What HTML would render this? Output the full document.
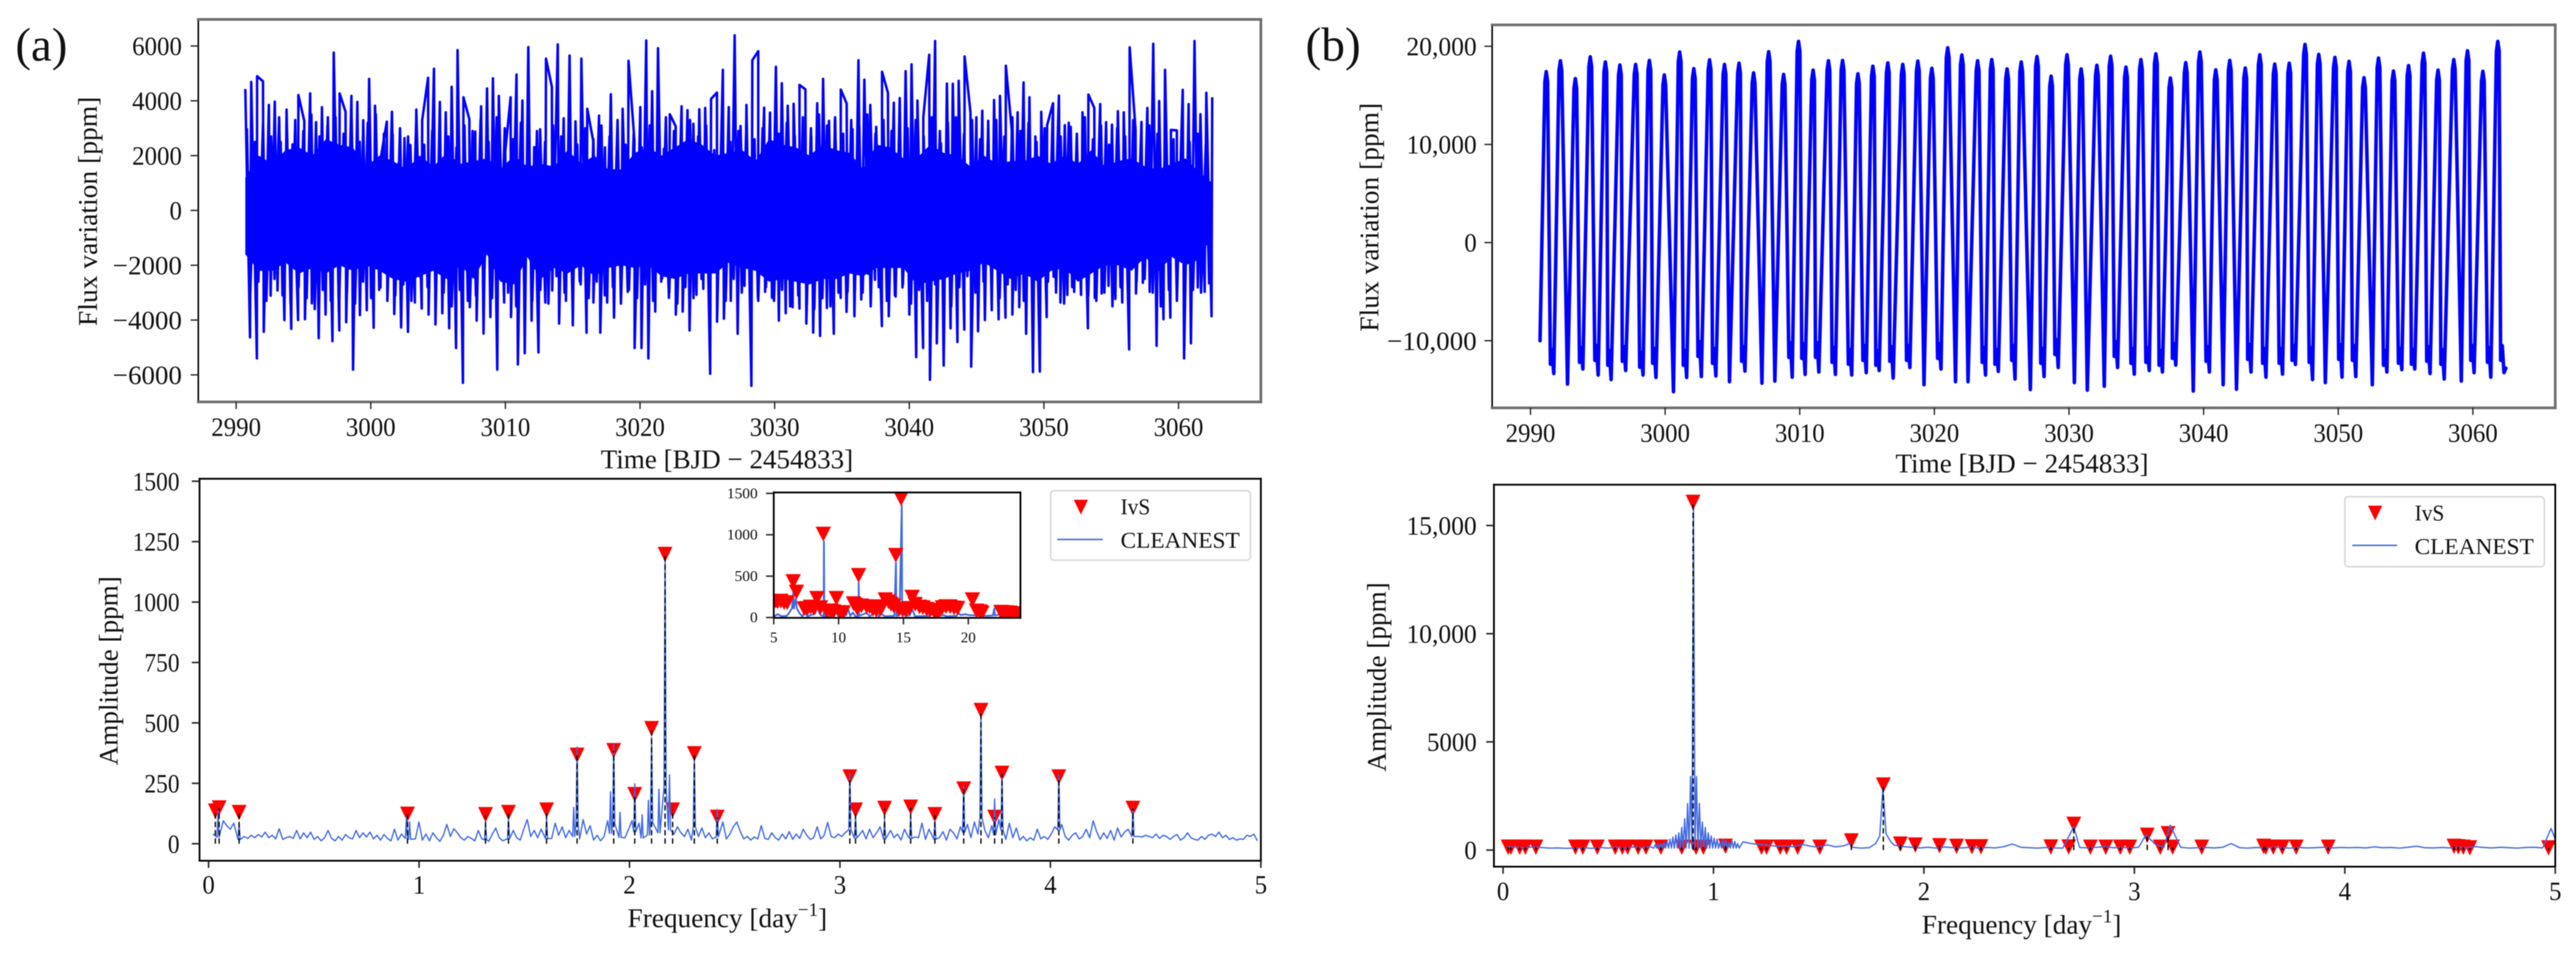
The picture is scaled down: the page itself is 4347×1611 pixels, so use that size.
<!DOCTYPE html>
<html lang="en">
<head>
<meta charset="utf-8">
<title>Flux variation and amplitude spectra</title>
<style>
html,body{margin:0;padding:0;background:#fff;}
body{width:4347px;height:1611px;overflow:hidden;}
#figure{display:block;filter:blur(0.8px);}
text{font-family:"Liberation Serif",serif;fill:#111;}
</style>
</head>
<body>
<svg id="figure" width="4347" height="1611" viewBox="0 0 4347 1611">
  <rect x="0" y="0" width="4347" height="1611" fill="#ffffff"/>
  <defs>
    <clipPath id="inset-clip"><rect x="1305.7" y="830.7" width="416.3" height="211.6"/></clipPath>
    <clipPath id="top-a-clip"><rect x="334.6" y="32.7" width="1793.1" height="645.3"/></clipPath>
    <clipPath id="top-b-clip"><rect x="2518" y="42" width="1794" height="646"/></clipPath>
  </defs>

  <text x="26" y="102" font-size="79">(a)</text>
  <text x="2203" y="102" font-size="80">(b)</text>

  <g id="lightcurve-a"></g>
  <g id="spectrum-a"></g>
  <g id="lightcurve-b"></g>
  <g id="spectrum-b"></g>

  <text transform="translate(163.5 356.5) rotate(-90)" text-anchor="middle" font-size="46" textLength="387" lengthAdjust="spacingAndGlyphs">Flux variation [ppm]</text>
  <text x="1013.7" y="790" font-size="46" textLength="426" lengthAdjust="spacingAndGlyphs">Time [BJD − 2454833]</text>
  <text transform="translate(198.5 1131.5) rotate(-90)" text-anchor="middle" font-size="46" textLength="319" lengthAdjust="spacingAndGlyphs">Amplitude [ppm]</text>
  <text x="1059" y="1564" font-size="46">Frequency [day<tspan font-size="32" dy="-19">−1</tspan><tspan dy="19">]</tspan></text>

  <text transform="translate(2326 366.5) rotate(-90)" text-anchor="middle" font-size="46" textLength="386" lengthAdjust="spacingAndGlyphs">Flux variation [ppm]</text>
  <text x="3198.6" y="797" font-size="46" textLength="427" lengthAdjust="spacingAndGlyphs">Time [BJD − 2454833]</text>
  <text transform="translate(2338.5 1142) rotate(-90)" text-anchor="middle" font-size="46" textLength="319.5" lengthAdjust="spacingAndGlyphs">Amplitude [ppm]</text>
  <text x="3243" y="1575" font-size="46">Frequency [day<tspan font-size="32" dy="-19">−1</tspan><tspan dy="19">]</tspan></text>

  <g>
    <rect x="1773" y="827.7" width="337" height="117.3" rx="6" fill="#ffffff" fill-opacity="0.85" stroke="#d6d6d6" stroke-width="2.5"/>
    <polygon points="1812,843 1836,843 1824,868" fill="#ff0000"/>
    <text x="1891" y="867.5" font-size="38" textLength="50" lengthAdjust="spacingAndGlyphs">IvS</text>
    <line x1="1784" y1="910" x2="1861" y2="910" stroke="#4169e1" stroke-width="2.4"/>
    <text x="1891" y="924" font-size="38" textLength="201" lengthAdjust="spacingAndGlyphs">CLEANEST</text>
  </g>
  <g>
    <rect x="3957" y="838" width="336.6" height="118" rx="6" fill="#ffffff" fill-opacity="0.85" stroke="#d6d6d6" stroke-width="2.5"/>
    <polygon points="3996,853 4020,853 4008,878" fill="#ff0000"/>
    <text x="4074.8" y="878" font-size="38" textLength="50" lengthAdjust="spacingAndGlyphs">IvS</text>
    <line x1="3969.5" y1="920" x2="4045" y2="920" stroke="#4169e1" stroke-width="2.4"/>
    <text x="4074.8" y="934.7" font-size="38" textLength="201" lengthAdjust="spacingAndGlyphs">CLEANEST</text>
  </g>
</svg>

<script>
/* ---------- tick labels ---------- */
const timeTicks = [2990, 3000, 3010, 3020, 3030, 3040, 3050, 3060];
const fluxTicksA = [-6000, -4000, -2000, 0, 2000, 4000, 6000];
const fluxTicksB = [-10000, 0, 10000, 20000];
const fluxTickLabelsB = ['−10,000', '0', '10,000', '20,000'];
const freqTicks = [0, 1, 2, 3, 4, 5];
const ampTicksA = [0, 250, 500, 750, 1000, 1250, 1500];
const ampTicksB = [0, 5000, 10000, 15000];
const ampTickLabelsB = ['0', '5000', '10,000', '15,000'];
const insetFreqTicks = [5, 10, 15, 20];
const insetAmpTicks = [0, 500, 1000, 1500];

/* ---------- panel (a) light curve: upper spikes, lower spikes, mid-level spikes, dense core envelope ---------- */
const timeStartA = 2990.68;
const timeEndA = 3062.5;
const fluxHighA = [4430,4690,4900,4710,3850,3970,2500,3680,2410,4210,3270,4270,3220,3770,3400,5760,4270,3600,4180,3960,3290,4800,3820,1950,3240,2770,1720,2640,2390,3680,3290,4840,5170,3960,3580,4510,5850,4130,3330,2880,3800,4450,4820,4180,1950,4130,4960,4010,5960,2310,2960,5540,4510,6060,3360,5650,3250,5540,3710,2550,3460,2300,4240,2280,3710,5460,2550,3770,6200,4350,5920,
2250,3510,3070,3800,3660,3160,3690,3740,4070,4300,5130,3770,6390,3080,3850,5480,5810,3750,3570,5240,4640,3820,3890,4580,4420,2700,3910,4800,3270,3290,4410,3900,2960,5480,4770,3850,3050,5060,4290,3930,4100,5080,5330,4010,3400,5680,6180,2440,4630,4620,4730,5620,3570,3400,3640,3270,4030,4180,5280,2940,3580,4670,4130,2700,3600,3110,3910,4190,3110,3050,2110,3580,4230,3740,3880,3220,3130,3620,3580,5950,2940,3230,3740,6080,3990,5130,2940,2920,4400,3880,6180,3510,4290,4130];
const fluxLowA = [-4630,-5400,-4430,-3110,-2920,-4000,-4320,-4000,-3970,-3390,-4660,-3800,-4770,-4380,-4080,-5810,-3820,-3640,-4280,-2810,-3300,-3780,-4270,-4430,-3360,-3580,-3800,-4160,-3750,-4300,-5020,-6290,-3530,-4020,-4490,-3890,-5810,-3360,-3890,-5620,-5210,-4020,-5180,-3360,-2920,-4130,-3300,-4190,-2590,-4460,-3360,-4460,-3360,-3910,-2420,-2970,-5020,-5020,-5400,
-3690,-2480,-3190,-3800,-3690,-4380,-3080,-2860,-5960,-4060,-3950,-3300,-4500,-2750,-6400,-3300,-2970,-3190,-4020,-3750,-3530,-3580,-4130,-4460,-4580,-3560,-4500,-3190,-2970,-3860,-3250,-2310,-2530,-4220,-3860,-3140,-2810,-3800,-5350,-5020,-6180,-4850,-5660,-4300,-4800,-4350,-5700,-4410,-4000,-3640,-3970,-3910,-3800,-3530,-4500,-5900,-5880,-3890,-2420,-3360,-3080,-2970,-3080,-4300,-3190,-3030,-2750,-3230,-3360,-5070,-3030,-2640,-2970,-4940,-3970,-3910,-2530,-5400,-4850,-2810,-2970,-3860];
const plateauHighA = [3000,2500,3200,2700,3400,2600,3300,2900,3500,2700,3100,3400,2800,3300,2500,3200,3500,2800,3600,3000,2700,3200,2400,2900,2100,2700,2300,3100,2900,3300,2500,3400,3000,2600,3200,2300,2900,2500,3100,2700,2000,2400,3000,2600,3100,2700,3300,2400,2800,2300,3100,2600,3400,2900,2500,3300,2700,3100,2200,3000,2500,2900,3300,2600,3000,2400,2800,3200,2700,3400,3000,3500,3100,3400,2800,3300,3100,3500,2800,3300,2900,3400,3000,3300,2700,3400,2900,3200,3400,2800,3300,2600,3000,3300,2700,3400,2900,3200,2500,3000,3400,2700,3200,2800,3400,2600,3100,2400,3000,2700,3300,2500,3100,2800,3300,2600,3000,2500,2800,2400];
const plateauLowA = [-3000,-2600,-3300,-2500,-3100,-3400,-2800,-3200,-3600,-2900,-3300,-3700,-3000,-3400,-2600,-3200,-2900,-2500,-3100,-2700,-3300,-2400,-2800,-3300,-3000,-3500,-2900,-3300,-3100,-2700,-3200,-2500,-3000,-3500,-2800,-3300,-2900,-3400,-2400,-3000,-3500,-2700,-3200,-2600,-3100,-2800,-3400,-2900,-3200,-2700,-3300,-2600,-3000,-3400,-2800,-3200,-2500,-3100,-2700,-3300,-2500,-3000,-2700,-3200,-2800,-3300,-2900,-3500,-3100,-2900,-3600,-3200,-3500,-3000,-3700,-3300,-3000,-3500,-2800,-3300,-3100,-2700,-3400,-2900,-3300,-2700,-3100,-3500,-2800,-2400,-3000,-2600,-2900,-3200,-2700,-2900,-3300,-2500,-3100,-2600,-3000,-3400,-2800,-2500,-3100,-3300,-3000,-3500,-2800,-3000,-2600,-2500,-3000,-3500,-2900,-3300,-2700,-2900,-3000,-2700];
const coreHighA = [1200,2000,1700,2200,2300,2000,2600,2400,2300,1600,2000,1800,1500,2000,1600,2100,1700,1800,1900,1500,2000,1600,1700,1600,2200,1700,2000,1500,1500,2100,2300,2000,2300,2600,2400,2000,2100,2200,1800,2600,2400,2300,2000,2400,2200,2100,1500,2400,2300,1900,1900,2400,2100,2000,1600,2000,1700,1800,1800,2000,1700,2000,1700,2200,1600,1800,1900,1600,1500,1700,1900,1400,1000];
const coreLowA = [-1600,-2200,-2200,-1900,-2300,-2100,-2300,-2000,-2200,-2000,-2200,-2500,-2600,-2400,-2200,-2500,-2000,-2500,-1600,-2600,-2700,-1700,-2500,-2100,-2300,-2000,-2400,-2100,-2000,-2100,-2000,-2400,-2500,-2300,-2300,-2300,-1900,-2100,-2200,-2600,-2500,-2600,-2700,-2500,-2500,-2300,-2400,-2100,-2100,-2100,-2700,-2600,-2500,-2300,-2200,-1900,-2200,-2500,-2300,-2600,-2200,-2100,-2600,-2300,-2000,-2000,-2200,-1700,-2200,-1700,-2000,-1800,-900];

/* ---------- panel (b) light curve: one peak and one trough per pulsation cycle ---------- */
const startPointB = [2990.71, -10000];
const endPointB = [3062.45, -12800];
const peakTimesB = [2991.17,2992.22,2993.33,2994.44,2995.56,2996.64,2997.81,2998.83,2999.94,3001.08,3002.13,3003.30,3004.41,3005.49,3006.57,3007.69,3008.80,3009.91,3010.99,3012.13,3013.18,3014.32,3015.43,3016.54,3017.65,3018.77,3019.81,3020.99,3022.04,3023.21,3024.26,3025.40,3026.45,3027.62,3028.67,3029.85,3030.90,3032.07,3033.09,3034.23,3035.34,3036.45,3037.53,3038.67,3039.72,3040.90,3041.94,3043.09,3044.17,3045.28,3046.36,3047.53,3048.55,3049.75,3050.80,3051.91,3052.99,3054.10,3055.22,3056.33,3057.41,3058.58,3059.60,3060.74,3061.85];
const peakFluxB = [17412,18522,16704,18923,18400,18090,18150,18553,17074,19416,17720,18615,18150,18276,17290,19447,17135,20495,17567,18522,18553,17197,17967,18307,18150,18492,17752,19848,19108,18522,18646,17690,18400,18954,16950,19139,17690,18060,18985,17875,18646,19231,16766,18338,19416,17598,18553,17783,19139,18184,18276,20187,19170,18862,18461,16797,18800,17475,18030,19293,17567,18646,19540,17444,20495];
const troughTimesB = [2991.73,2992.75,2993.89,2995.03,2995.99,2997.07,2998.36,2999.32,3000.62,3001.60,3002.69,3003.77,3004.78,3005.93,3007.19,3008.15,3009.44,3010.40,3011.42,3012.65,3013.86,3014.94,3015.90,3016.94,3018.18,3019.23,3020.49,3021.57,3022.50,3023.80,3024.75,3025.99,3027.13,3028.15,3029.20,3030.40,3031.36,3032.62,3033.61,3034.85,3035.96,3036.94,3037.93,3039.23,3040.43,3041.45,3042.44,3043.52,3044.63,3045.86,3046.82,3048.09,3049.04,3050.28,3051.30,3052.53,3053.61,3054.72,3055.68,3056.82,3057.87,3059.14,3060.09,3061.33,3062.31];
const troughFluxB = [-13345,-14424,-12883,-13499,-13961,-13037,-13499,-13746,-15194,-13746,-13653,-13592,-14177,-13099,-14331,-14116,-13715,-13437,-13191,-13437,-13499,-13253,-13037,-13807,-12729,-14485,-12883,-14177,-14177,-13499,-13129,-13900,-14979,-13653,-12729,-14270,-15040,-14640,-12729,-13407,-13037,-13191,-12482,-15132,-13191,-14485,-14948,-13191,-13715,-13407,-12420,-13961,-14270,-13715,-13653,-14485,-13191,-12945,-12883,-13345,-13900,-14116,-13253,-13715,-13253];
const bumpFluxB = [-10900,null,-10700,-10500,-11000,-10600,-11200,-10800,null,-11000,-10100,-10800,null,-10600,null,null,-10200,-10300,-10200,-10700,-10900,-10500,-11000,-10600,-10500,null,-10300,null,null,-10700,-10900,-10500,null,-10800,-9900,null,null,null,-10100,-10800,-10700,-11000,-10300,null,-10600,null,null,-10400,-10800,-10800,-10500,-10700,null,-10400,-10500,null,-11000,-10800,-10900,-10600,-10900,null,-10500,-10700,-10500];

/* ---------- panel (a) spectrum ---------- */
const noiseStartA = 0.02;
const noiseStepA = 0.0166;
const noiseAmpA = [40,115,50,95,75,60,85,55,45,30,22,35,25,38,28,48,25,35,20,62,18,25,30,22,55,20,45,25,48,18,
30,12,25,55,22,12,30,15,38,25,20,55,25,45,28,48,20,35,15,38,22,12,60,15,40,12,50,28,20,90,
15,40,12,45,25,10,35,80,30,62,45,25,15,30,22,12,55,20,38,10,40,65,25,12,30,18,55,25,15,60,
100,30,55,25,60,18,70,22,85,35,70,25,55,95,30,20,100,40,75,15,35,12,30,95,28,100,40,70,25,60,
95,30,85,25,110,40,95,60,130,45,90,50,40,70,45,30,60,15,70,30,65,25,45,20,55,15,90,20,40,70,
90,50,20,30,15,28,20,75,22,18,45,25,15,40,20,50,18,40,22,60,35,18,25,70,20,35,88,30,25,40,
30,45,40,25,100,35,55,20,60,25,45,70,30,20,55,25,40,15,60,30,55,28,25,85,18,60,20,70,25,50,
15,60,45,20,70,30,80,25,90,40,95,55,25,75,30,100,50,18,85,25,65,15,30,12,25,15,60,20,30,18,
40,70,25,80,30,15,35,45,20,30,60,25,95,50,18,45,22,55,15,65,28,48,60,25,80,30,28,35,30,25,
40,22,35,30,18,30,38,15,25,45,25,18,15,30,18,35,40,30,48,25,35,18,25,15,20,18,35,30,40,12];
const spikeFreqA = [0.045,0.145,0.94,0.955,1.316,1.425,1.606,1.735,1.751,1.91,1.925,1.955,2.025,2.06,2.09,2.105,2.14,2.169,2.19,2.308,2.417,3.047,3.074,3.212,3.336,3.451,3.588,3.67,3.735,3.77,4.04,4.392];
const spikeAmpA = [135,85,110,90,83,100,105,150,400,215,415,130,248,120,180,440,226,1168,285,350,142,291,115,100,110,95,239,535,185,280,285,150];
const markerFreqA = [0.032,0.05,0.145,0.945,1.316,1.425,1.606,1.751,1.925,2.025,2.105,2.169,2.205,2.308,2.417,3.047,3.074,3.212,3.336,3.451,3.588,3.67,3.735,3.77,4.04,4.392];
const markerAmpA = [135,148,129,122,120,129,139,366,385,203,476,1197,139,372,109,276,139,146,151,120,226,551,109,291,276,146];

/* ---------- panel (a) inset ---------- */
const insetFreq = [5,5.3,5.6,6,6.2,6.4,6.5,6.55,6.7,6.78,7,7.2,7.4,7.6,8.2,8.35,8.6,8.85,8.87,8.9,9.5,9.8,10,10.6,10.72,10.9,11.1,11.3,11.54,11.55,11.58,12.16,12.4,12.85,13.1,13.3,13.6,14.3,14.42,14.46,14.7,14.87,14.9,15.2,15.5,15.67,15.9,17,17.2,17.5,18.1,18.3,19.1,19.2,19.4,19.8,20,21.4,21.9,22,22.05,22.4,24];
const insetAmp = [10,40,15,20,60,110,300,110,230,110,50,15,60,15,50,120,30,15,920,15,15,60,15,30,110,20,60,15,20,420,20,55,15,70,15,40,15,20,660,20,30,1360,40,20,30,100,15,20,40,15,30,15,20,60,30,40,30,20,25,110,25,35,15];
const insetMarkerFreq = [5.15,5.3,5.55,5.8,6.04,6.5,6.75,7.35,7.6,7.84,8.1,8.33,8.6,8.82,9.11,9.4,9.6,9.83,10.12,10.35,11.15,11.3,11.43,11.54,11.75,12.16,12.4,12.65,12.9,13.2,13.35,13.6,13.85,14.04,14.25,14.41,14.65,14.82,14.93,15.2,15.45,15.67,15.9,16.24,16.5,16.8,17.06,17.35,17.55,17.71,18,18.28,18.6,18.9,19.18,20.32,20.64,20.9,21.05,22.52,22.7,22.9,23.2,23.47,23.85];
const insetMarkerAmp = [198,190,198,180,179,435,308,107,110,127,110,232,120,1008,76,80,70,232,60,60,167,150,112,509,140,131,130,100,88,100,130,215,190,160,140,752,100,1437,88,90,110,246,160,127,120,100,88,80,75,64,120,131,130,115,112,215,79,70,55,64,60,60,55,48,48];

/* ---------- panel (b) spectrum ---------- */
const noiseStartB = 0.02;
const noiseStepB = 0.04;
const noiseAmpB = [150,130,110,140,120,90,100,80,90,110,80,120,90,130,100,140,110,150,
200,200,200,200,200,200,200,200,200,200,
380,300,260,220,180,200,150,260,180,130,240,150,200,
130,90,110,300,300,220,160,130,100,
130,90,140,110,100,130,90,120,100,160,280,
130,110,90,120,100,90,110,120,100,130,150,110,120,100,
130,150,260,120,110,130,90,110,120,100,130,
300,110,90,120,100,130,110,90,120,100,110,130,100,120,
110,120,100,150,110,120,90,130,180,110,100,120,100,130,110,160,120,100,130,110,90,120,130,100,160];
const combFreqB = [0.723,0.737,0.751,0.765,0.779,0.793,0.807,0.821,0.835,0.849,0.863,0.877,0.891,0.919,0.933,0.947,0.961,0.975,0.989,1.003,1.017,1.031,1.045,1.059,1.073,1.087,1.101,1.115];
const combAmpB = [250,300,300,350,400,500,600,700,800,1050,1450,2150,3400,3400,2150,1300,1050,800,650,550,500,350,500,450,350,450,400,300];
const combFloorB = 90;
const spikeFreqB = [0.905,1.645,1.77,1.79,1.805,1.82,1.845,2.712,3.055,3.17,4.98,5];
const spikeAmpB = [15800,300,300,650,2850,750,350,1080,700,1150,1000,500];
const markerFreqB = [0.024,0.037,0.079,0.106,0.156,0.344,0.379,0.448,0.533,0.567,0.592,0.642,0.679,0.75,0.849,0.903,0.917,0.952,1.057,1.228,1.252,1.317,1.347,1.4,1.505,1.655,1.807,1.888,1.959,2.074,2.155,2.228,2.271,2.603,2.688,2.712,2.791,2.864,2.933,2.978,3.061,3.123,3.16,3.182,3.32,3.614,3.624,3.66,3.703,3.769,3.921,4.519,4.539,4.563,4.594,4.968];
const markerAmpB = [130,130,130,130,130,130,130,130,130,130,130,130,130,130,130,16070,130,130,175,130,130,130,130,130,130,420,3005,275,230,200,170,150,150,140,140,1190,130,130,130,130,680,130,755,130,130,170,130,130,130,130,130,170,150,130,100,100];

/* ---------- drawing helpers ---------- */
const SVGNS = 'http://www.w3.org/2000/svg';
function scale(d0, r0, d1, r1) { return v => r0 + (v - d0) * (r1 - r0) / (d1 - d0); }
function shape(tag, parent, attrs) {
  const el = document.createElementNS(SVGNS, tag);
  for (const k in attrs) el.setAttribute(k, attrs[k]);
  parent.appendChild(el);
  return el;
}
function labelWidth(s, dw) {
  let w = 0;
  for (const c of s) w += c === ',' ? dw * 0.65 : (c === '−' ? dw * 1.55 : dw);
  return w;
}
function tickLabel(parent, s, x, y, align, size, dw, name) {
  const w = labelWidth(s, dw);
  const sx = align === 'end' ? x - w : x - w / 2;
  const el = shape('text', parent, { x: sx, y: y, 'font-size': size, textLength: w, lengthAdjust: 'spacingAndGlyphs' });
  el.textContent = s;
  
  
  return el;
}
function xTicks(parent, values, labels, sx, box, opt) {
  values.forEach((v, i) => {
    const t = shape('line', parent, { x1: sx(v), x2: sx(v), y1: box.b, y2: box.b + opt.len, stroke: '#222', 'stroke-width': opt.w });
    
    
    tickLabel(parent, String(labels[i]), sx(v), box.b + opt.off, 'middle', opt.size, opt.dw, 'x-tick-label');
  });
}
function yTicks(parent, values, labels, sy, box, opt) {
  values.forEach((v, i) => {
    const t = shape('line', parent, { x1: box.l - opt.len, x2: box.l, y1: sy(v), y2: sy(v), stroke: '#222', 'stroke-width': opt.w });
    
    
    tickLabel(parent, String(labels[i]), opt.right, sy(v) + opt.base, 'end', opt.size, opt.dw, 'y-tick-label');
  });
}
function spines(parent, box, topStyle) {
  const sides = [
    ['spine-left', box.l, box.t, box.l, box.b, '#000', topStyle ? 2.6 : 3],
    ['spine-top', box.l, box.t, box.r, box.t, topStyle ? '#6e6e6e' : '#000', topStyle ? 4.5 : 3],
    ['spine-right', box.r, box.t, box.r, box.b, topStyle ? '#6e6e6e' : '#000', topStyle ? 4.5 : 3],
    ['spine-bottom', box.l, box.b, box.r, box.b, topStyle ? '#6e6e6e' : '#000', topStyle ? 4.5 : 3]
  ];
  sides.forEach(s => {
    const l = shape('line', parent, { x1: s[1], y1: s[2], x2: s[3], y2: s[4], stroke: s[5], 'stroke-width': s[6], 'stroke-linecap': 'square' });
    
    
  });
}
function pathFrom(points) {
  return 'M' + points.map(p => p[0].toFixed(2) + ' ' + p[1].toFixed(2)).join('L');
}
function triangle(parent, cx, cy, w, h) {
  const p = shape('polygon', parent, { points: (cx - w / 2) + ',' + (cy - h / 2) + ' ' + (cx + w / 2) + ',' + (cy - h / 2) + ' ' + cx + ',' + (cy + h / 2), fill: '#ff0000' });
  
  
  return p;
}
function dashed(parent, x, y0, y1) {
  const d = shape('line', parent, { x1: x, x2: x, y1: y0, y2: y1, stroke: '#000', 'stroke-width': 2.2, 'stroke-dasharray': '9 5' });
  
  
}
function mergeSpectrum(start, step, noise, spikeF, spikeA, guard, exclude) {
  const pts = [];
  noise.forEach((a, i) => {
    const f = start + i * step;
    if (spikeF.some(s => Math.abs(s - f) < guard)) return;
    if (exclude && f > exclude[0] && f < exclude[1]) return;
    pts.push([f, a]);
  });
  spikeF.forEach((f, i) => pts.push([f, spikeA[i]]));
  return pts;
}

/* ---------- panel (a) light curve ---------- */
(function () {
  const g = document.getElementById('lightcurve-a');
  const box = { l: 334.6, t: 32.7, r: 2127.7, b: 678 };
  const sx = scale(2990, 398.5, 3060, 1988.8);
  const sy = scale(0, 355, 6000, 77.6);
  const core = [];
  const coreSpan = timeEndA - timeStartA;
  coreHighA.forEach((v, i) => core.push([sx(timeStartA + i * coreSpan / (coreHighA.length - 1)), sy(v)]));
  for (let i = coreLowA.length - 1; i >= 0; i--) core.push([sx(timeStartA + i * coreSpan / (coreLowA.length - 1)), sy(coreLowA[i])]);
  const band = shape('path', g, { d: pathFrom(core) + 'Z', fill: '#0000ff', 'clip-path': 'url(#top-a-clip)' });
  
  
  const zig = [];
  plateauHighA.forEach((v, i) => {
    const t = timeStartA + (i + 0.2) * coreSpan / plateauHighA.length;
    zig.push([sx(t), sy(v)]);
    zig.push([sx(t + 0.25), sy(plateauLowA[i])]);
  });
  const mid = shape('path', g, { d: pathFrom(zig), fill: 'none', stroke: '#0000ff', 'stroke-width': 4.2, 'stroke-linejoin': 'round', 'clip-path': 'url(#top-a-clip)' });
  
  
  const merged = [];
  fluxHighA.forEach((v, i) => merged.push([timeStartA + i * coreSpan / (fluxHighA.length - 1), v]));
  fluxLowA.forEach((v, i) => merged.push([timeStartA + 0.35 + i * (coreSpan - 0.4) / (fluxLowA.length - 1), v]));
  merged.sort((a, b) => a[0] - b[0]);
  const line = shape('path', g, { d: pathFrom(merged.map(p => [sx(p[0]), sy(p[1])])), fill: 'none', stroke: '#0000ff', 'stroke-width': 4.2, 'stroke-linejoin': 'round', 'clip-path': 'url(#top-a-clip)' });
  
  
  spines(g, box, true);
  xTicks(g, timeTicks, timeTicks, sx, box, { len: 12, w: 2.2, off: 57, size: 44, dw: 21 });
  yTicks(g, fluxTicksA, fluxTicksA.map(v => String(v).replace('-', '−')), sy, box, { len: 13, w: 2.2, right: 307, base: 15, size: 44, dw: 21 });
})();

/* ---------- panel (b) light curve ---------- */
(function () {
  const g = document.getElementById('lightcurve-b');
  const box = { l: 2518, t: 42, r: 4312, b: 688 };
  const sx = scale(2990, 2582.7, 3060, 4173);
  const sy = scale(0, 409.2, 20000, 78.06);
  const pts = [startPointB];
  peakTimesB.forEach((t, i) => {
    pts.push([t - 0.1, peakFluxB[i] - 1000]);
    pts.push([t, peakFluxB[i]]);
    pts.push([t + 0.1, peakFluxB[i] - 1000]);
    const tt = troughTimesB[i];
    if (bumpFluxB[i] !== null) {
      pts.push([tt - 0.25, bumpFluxB[i] - 1500]);
      pts.push([tt - 0.13, bumpFluxB[i]]);
    }
    pts.push([tt, troughFluxB[i]]);
  });
  pts.push(endPointB);
  const line = shape('path', g, { d: pathFrom(pts.map(p => [sx(p[0]), sy(p[1])])), fill: 'none', stroke: '#0000ff', 'stroke-width': 6, 'stroke-linejoin': 'round', 'stroke-linecap': 'round', 'clip-path': 'url(#top-b-clip)' });
  
  
  spines(g, box, true);
  xTicks(g, timeTicks, timeTicks, sx, box, { len: 12, w: 2.2, off: 57, size: 44, dw: 21 });
  yTicks(g, fluxTicksB, fluxTickLabelsB, sy, box, { len: 13, w: 2.2, right: 2492, base: 15, size: 44, dw: 21 });
})();

/* ---------- panel (a) spectrum ---------- */
(function () {
  const g = document.getElementById('spectrum-a');
  const box = { l: 336.7, t: 807.6, r: 2127.7, b: 1452 };
  const sx = scale(0, 352, 5, 2127.7);
  const sy = scale(0, 1423.3, 1500, 811.8);
  markerFreqA.forEach((f, i) => triangle(g, sx(f), sy(markerAmpA[i]), 25, 26));
  const pts = mergeSpectrum(noiseStartA, noiseStepA, noiseAmpA, spikeFreqA, spikeAmpA, 0.012);
  spikeFreqA.forEach((f, i) => {
    pts.push([f - 0.005, spikeAmpA[i] * 0.2]);
    pts.push([f + 0.005, spikeAmpA[i] * 0.2]);
  });
  pts.sort((a, b) => a[0] - b[0]);
  const line = shape('path', g, { d: pathFrom(pts.map(p => [sx(p[0]), sy(p[1])])), fill: 'none', stroke: '#4169e1', 'stroke-width': 2.2, 'stroke-linejoin': 'round' });
  
  
  markerFreqA.forEach((f, i) => dashed(g, sx(f), sy(0), sy(markerAmpA[i])));
  spines(g, box, false);
  xTicks(g, freqTicks, freqTicks, sx, box, { len: 12, w: 2.6, off: 55, size: 44, dw: 21 });
  yTicks(g, ampTicksA, ampTicksA, sy, box, { len: 13, w: 2.6, right: 303, base: 15, size: 44, dw: 19.8 });

  /* inset */
  const inset = shape('g', g, {});
  
  
  const ibox = { l: 1305.7, t: 830.7, r: 1722, b: 1042.3 };
  const bg = shape('rect', inset, { x: ibox.l, y: ibox.t, width: ibox.r - ibox.l, height: ibox.b - ibox.t, fill: '#fff' });
  
  
  const ix = scale(5, 1305.7, 20, 1634);
  const iy = scale(0, 1041.7, 1500, 832.3);
  const iline = shape('path', inset, { d: pathFrom(insetFreq.map((f, i) => [ix(f), iy(insetAmp[i])])), fill: 'none', stroke: '#4169e1', 'stroke-width': 3, 'stroke-linejoin': 'round', 'clip-path': 'url(#inset-clip)' });
  
  
  const mg = shape('g', inset, { 'clip-path': 'url(#inset-clip)' });
  
  
  insetMarkerFreq.forEach((f, i) => triangle(mg, ix(f), iy(insetMarkerAmp[i]), 26, 25));
  spines(inset, ibox, false);
  xTicks(inset, insetFreqTicks, insetFreqTicks, ix, ibox, { len: 11, w: 2.4, off: 41, size: 25, dw: 12.6 });
  yTicks(inset, insetAmpTicks, insetAmpTicks, iy, ibox, { len: 13, w: 2.4, right: 1278.6, base: 8, size: 25, dw: 13 });
})();

/* ---------- panel (b) spectrum ---------- */
(function () {
  const g = document.getElementById('spectrum-b');
  const box = { l: 2521, t: 817.6, r: 4312, b: 1462 };
  const sx = scale(0, 2536.4, 5, 4312);
  const sy = scale(0, 1434, 15000, 886.5);
  markerFreqB.forEach((f, i) => triangle(g, sx(f), sy(markerAmpB[i]), 25, 26));
  const pts = mergeSpectrum(noiseStartB, noiseStepB, noiseAmpB, spikeFreqB, spikeAmpB, 0.015, [combFreqB[0] - 0.01, combFreqB[combFreqB.length - 1] + 0.01]);
  combFreqB.forEach((f, i) => {
    pts.push([f, combAmpB[i]]);
    pts.push([f + 0.007, combFloorB]);
    pts.push([f - 0.007, combFloorB]);
  });
  pts.sort((a, b) => a[0] - b[0]);
  const line = shape('path', g, { d: pathFrom(pts.map(p => [sx(p[0]), sy(p[1])])), fill: 'none', stroke: '#4169e1', 'stroke-width': 2.2, 'stroke-linejoin': 'round' });
  
  
  markerFreqB.forEach((f, i) => dashed(g, sx(f), sy(0), sy(markerAmpB[i])));
  spines(g, box, false);
  xTicks(g, freqTicks, freqTicks, sx, box, { len: 12, w: 2.6, off: 56, size: 44, dw: 21 });
  yTicks(g, ampTicksB, ampTickLabelsB, sy, box, { len: 13, w: 2.6, right: 2492, base: 15, size: 44, dw: 21 });
})();
</script>
</body>
</html>
